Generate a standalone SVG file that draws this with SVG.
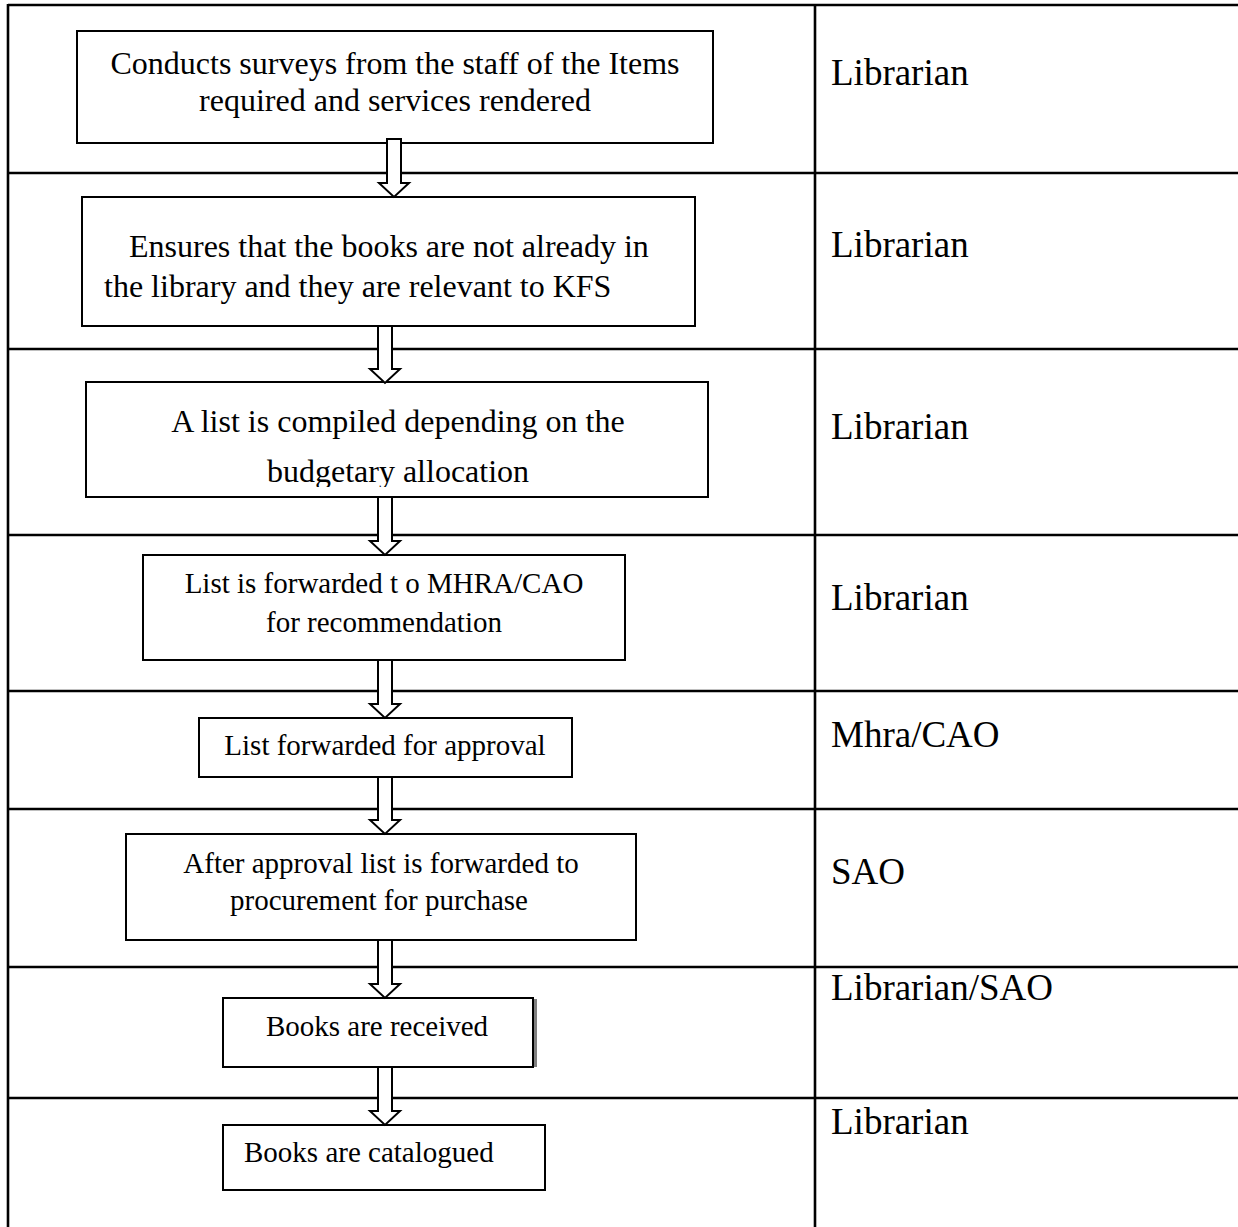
<svg xmlns="http://www.w3.org/2000/svg" width="1238" height="1227" viewBox="0 0 1238 1227">
  <style>
    .grid { stroke: #000; stroke-width: 2.6; fill: none; }
    .box { fill: #fff; stroke: #000; stroke-width: 2; }
    .arrow { fill: #fff; stroke: #000; stroke-width: 2; stroke-linejoin: miter; }
    .t { font-family: "Liberation Serif", "Times New Roman", serif; font-size: 32px; fill: #000; }
    .s { font-family: "Liberation Serif", "Times New Roman", serif; font-size: 29px; fill: #000; }
    .c { text-anchor: middle; }
    .role { font-family: "Liberation Serif", "Times New Roman", serif; font-size: 37px; fill: #000; }
  </style>
  <defs>
    <clipPath id="clip3"><rect x="86" y="382" width="622" height="105"/></clipPath>
  </defs>
  <rect x="0" y="0" width="1238" height="1227" fill="#fff"/>

  <g id="table">
    <line class="grid" x1="8" y1="5" x2="1238" y2="5"/>
    <line class="grid" x1="8" y1="4" x2="8" y2="1227"/>
    <line class="grid" x1="815" y1="4" x2="815" y2="1227"/>
    <line class="grid" x1="8" y1="173" x2="1238" y2="173"/>
    <line class="grid" x1="8" y1="349" x2="1238" y2="349"/>
    <line class="grid" x1="8" y1="535" x2="1238" y2="535"/>
    <line class="grid" x1="8" y1="691" x2="1238" y2="691"/>
    <line class="grid" x1="8" y1="809" x2="1238" y2="809"/>
    <line class="grid" x1="8" y1="967" x2="1238" y2="967"/>
    <line class="grid" x1="8" y1="1098" x2="1238" y2="1098"/>
  </g>

  <g id="roles">
    <text class="role" x="831" y="85">Librarian</text>
    <text class="role" x="831" y="257">Librarian</text>
    <text class="role" x="831" y="439">Librarian</text>
    <text class="role" x="831" y="610">Librarian</text>
    <text class="role" x="831" y="747">Mhra/CAO</text>
    <text class="role" x="831" y="884">SAO</text>
    <text class="role" x="831" y="1000">Librarian/SAO</text>
    <text class="role" x="831" y="1134">Librarian</text>
  </g>

  <g id="node1">
    <rect class="box" x="77" y="31" width="636" height="112"/>
    <text class="t c" x="395" y="74">Conducts surveys from the staff of the Items</text>
    <text class="t c" x="395" y="111">required and services rendered</text>
  </g>
  <g id="node2">
    <rect class="box" x="82" y="197" width="613" height="129"/>
    <text class="t" x="129" y="257">Ensures that the books are not already in</text>
    <text class="t" x="104" y="297">the library and they are relevant to KFS</text>
  </g>
  <g id="node3">
    <rect class="box" x="86" y="382" width="622" height="115"/>
    <text class="t c" x="398" y="432">A list is compiled depending on the</text>
    <text class="t c" x="398" y="482" clip-path="url(#clip3)">budgetary allocation</text>
  </g>
  <g id="node4">
    <rect class="box" x="143" y="555" width="482" height="105"/>
    <text class="s c" x="384" y="593">List is forwarded t o MHRA/CAO</text>
    <text class="s c" x="384" y="632">for recommendation</text>
  </g>
  <g id="node5">
    <rect class="box" x="199" y="718" width="373" height="59"/>
    <text class="s c" x="385" y="755">List forwarded for approval</text>
  </g>
  <g id="node6">
    <rect class="box" x="126" y="834" width="510" height="106"/>
    <text class="s c" x="381" y="873">After approval list is forwarded to</text>
    <text class="s c" x="379" y="910">procurement for purchase</text>
  </g>
  <g id="node7">
    <rect x="533" y="999" width="4" height="68" fill="#808080"/>
    <rect class="box" x="223" y="998" width="310" height="69"/>
    <text class="s c" x="377" y="1036">Books are received</text>
  </g>
  <g id="node8">
    <rect class="box" x="223" y="1125" width="322" height="65"/>
    <text class="s" x="244" y="1162">Books are catalogued</text>
  </g>

  <g id="connectors">
    <path class="arrow" d="M387,139 H401 V183 H409 L394,197 L379,183 H387 Z"/>
    <path class="arrow" d="M378,326 H392 V369 H400 L385,383 L370,369 H378 Z"/>
    <path class="arrow" d="M378,497 H392 V541 H400 L385,555 L370,541 H378 Z"/>
    <path class="arrow" d="M378,660 H392 V704 H400 L385,718 L370,704 H378 Z"/>
    <path class="arrow" d="M378,777 H392 V820 H400 L385,834 L370,820 H378 Z"/>
    <path class="arrow" d="M378,940 H392 V984 H400 L385,998 L370,984 H378 Z"/>
    <path class="arrow" d="M378,1067 H392 V1111 H400 L385,1125 L370,1111 H378 Z"/>
  </g>
</svg>
